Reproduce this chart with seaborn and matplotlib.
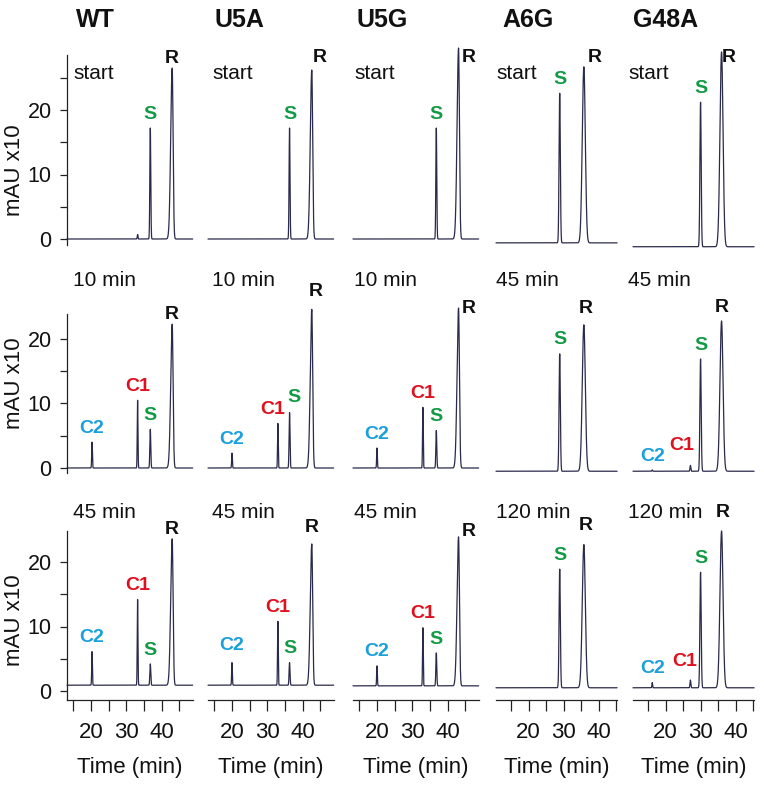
import numpy as np
import pandas as pd
import matplotlib.pyplot as plt
import matplotlib.transforms as mtransforms
import seaborn as sns

sns.set_theme(style="white")
plt.rcParams['font.family'] = ['Liberation Sans', 'DejaVu Sans']

# ── Data ─────────────────────────────────────────────────────────────────────
samples = ['WT', 'U5A', 'U5G', 'A6G', 'G48A']
time_labels = {
    'WT':   ['start', '10 min', '45 min'],
    'U5A':  ['start', '10 min', '45 min'],
    'U5G':  ['start', '10 min', '45 min'],
    'A6G':  ['start', '45 min', '120 min'],
    'G48A': ['start', '45 min', '120 min'],
}
peak_names = ['C2', 'C1', 'S', 'R']

# retention times (min) of C2, C1, S, R
rt_WT = [20.3, 33.2, 36.8, 43.0]
rt_U5A = [20.0, 33.0, 36.3, 42.6]
rt_U5G = [20.0, 33.0, 36.8, 43.1]
rt_A6G = [16.0, 27.0, 28.9, 35.8]
rt_G48A = [16.2, 27.1, 30.0, 36.0]

# apex values (mAU x10) for C2, C1, S, R at each time point
apex_WT = [[0.0, 0.7, 17.2, 26.5], [4.0, 10.5, 6.0, 22.3], [6.1, 14.2, 4.2, 23.6]]
apex_U5A = [[0.0, 0.0, 17.2, 26.2], [2.3, 6.9, 8.6, 24.6], [4.4, 10.8, 4.4, 22.8]]
apex_U5G = [[0.0, 0.0, 17.2, 29.6], [3.1, 9.4, 5.8, 24.8], [3.9, 9.8, 5.9, 23.9]]
apex_A6G = [[-0.6, -0.6, 22.6, 26.7], [-0.5, -0.5, 17.7, 22.2], [0.5, 0.5, 18.9, 22.7]]
apex_G48A = [[-1.2, -1.2, 21.2, 29.0], [-0.3, 0.4, 16.9, 22.8], [1.3, 1.7, 18.4, 24.8]]

# baseline level at each time point
base_WT = [0.0, 0.0, 0.9]
base_U5A = [0.0, 0.0, 0.9]
base_U5G = [0.0, 0.0, 0.8]
base_A6G = [-0.6, -0.5, 0.5]
base_G48A = [-1.2, -0.5, 0.5]

rts = {'WT': rt_WT, 'U5A': rt_U5A, 'U5G': rt_U5G, 'A6G': rt_A6G, 'G48A': rt_G48A}
apexes = {'WT': apex_WT, 'U5A': apex_U5A, 'U5G': apex_U5G, 'A6G': apex_A6G, 'G48A': apex_G48A}
bases = {'WT': base_WT, 'U5A': base_U5A, 'U5G': base_U5G, 'A6G': base_A6G, 'G48A': base_G48A}

# ── Style ────────────────────────────────────────────────────────────────────
colors = {'C2': '#1ca0dc', 'C1': '#e0101e', 'S': '#129a45', 'R': '#111111'}
trace_color = '#2a2a4c'
# peak widths (sigma left, sigma right) in minutes
sig_sharp = {'C2': (0.10, 0.10), 'C1': (0.10, 0.10), 'S': (0.13, 0.13), 'R': (0.42, 0.25)}
sig_broad = {'C2': (0.10, 0.10), 'C1': (0.12, 0.12), 'S': (0.18, 0.18), 'R': (0.45, 0.42)}

# label offsets (points) relative to the peak apex
default_off = (0, 10)
label_off = {
    (0, 'WT', 'R'): (0, 7),
    (0, 'U5A', 'R'): (6, 9), (0, 'U5G', 'R'): (7, -7),
    (0, 'A6G', 'R'): (8, 6.5), (0, 'G48A', 'R'): (5, -4),
    (1, 'WT', 'R'): (0, 7),
    (1, 'U5A', 'C1'): (-3.6, 10), (1, 'U5A', 'S'): (3, 11), (1, 'U5A', 'R'): (3, 13),
    (1, 'U5G', 'R'): (7, 0), (1, 'A6G', 'R'): (1.4, 12), (1, 'G48A', 'C1'): (-6, 14),
    (2, 'WT', 'R'): (0, 7),
    (2, 'U5A', 'C2'): (0, 12), (2, 'U5A', 'R'): (0, 12), (2, 'U5G', 'R'): (7, 4),
    (2, 'A6G', 'R'): (1.4, 13.7), (2, 'G48A', 'C1'): (-4.3, 13.7), (2, 'G48A', 'R'): (0.7, 13.7),
}

W, H = 764, 788
k = 6.45  # px per mAU x10
col_left = [67, 208, 353, 496, 633]
col_xlim = [(13.2, 48.8)] * 3 + [(10.7, 45.3)] * 2
col_pxmin = [3.53] * 3 + [3.5] * 2
col_tlabel_dx = [6, 4, 1, 0, -5]   # px from axes left
col_title_dx = [9, 7, 4, 6, 0]
row_zero = [239, 468, 691]
row_ylim = [(-1.5, 30.5), (-1.0, 26.0), (-1.4, 25.5)]
row_spine = [(-1.0, 28.5), (-0.8, 23.8), (-1.4, 24.8)]
row_minor = [[5, 15, 25], [5, 15], [5, 15]]
row_tlabel_y = [25.7, 29.1, 27.6]
row_ylabel_y = [10.7, 13.2, 11.0]

fig = plt.figure(figsize=(W / 100, H / 100), dpi=100)
fig.patch.set_facecolor('white')


def trace(t, sample, row, broad):
    y = np.full_like(t, bases[sample][row])
    sig = sig_broad if broad else sig_sharp
    for name, rt, ap in zip(peak_names, rts[sample], apexes[sample][row]):
        amp = ap - bases[sample][row]
        sl, sr = sig[name]
        s = np.where(t < rt, sl, sr)
        y += amp * np.exp(-0.5 * ((t - rt) / s) ** 2)
    return y


for c, sample in enumerate(samples):
    broad = c >= 3
    xlim = col_xlim[c]
    width_px = (xlim[1] - xlim[0]) * col_pxmin[c]
    for r in range(3):
        ylim = row_ylim[r]
        bottom_px = row_zero[r] - ylim[0] * k
        height_px = (ylim[1] - ylim[0]) * k
        ax = fig.add_axes([col_left[c] / W, 1 - bottom_px / H, width_px / W, height_px / H])
        ax.set_facecolor('none')

        t = np.linspace(xlim[0], xlim[1], 3000)
        df = pd.DataFrame({'Time': t, 'Signal': trace(t, sample, r, broad)})
        sns.lineplot(data=df, x='Time', y='Signal', ax=ax, color=trace_color,
                     linewidth=0.9, estimator=None, clip_on=False)
        ax.set_xlim(*xlim)
        ax.set_ylim(*ylim)

        for sp in ['top', 'right']:
            ax.spines[sp].set_visible(False)
        ax.spines['left'].set_visible(c == 0)
        ax.spines['bottom'].set_visible(r == 2)
        for sp in ['left', 'bottom']:
            ax.spines[sp].set_color('#222222')
            ax.spines[sp].set_linewidth(0.9)
        ax.spines['left'].set_bounds(*row_spine[r])

        if c == 0:
            ax.set_yticks([0, 10, 20])
            ax.set_yticks(row_minor[r], minor=True)
            ax.tick_params(axis='y', which='both', direction='out', length=5,
                           width=0.9, color='#222222', left=True, pad=6,
                           labelsize=15.5, labelcolor='#111111')
            ax.set_ylabel('mAU x10', fontsize=16, color='#111111')
            ax.yaxis.set_label_coords((25 - 67) / width_px,
                                      (row_ylabel_y[r] - ylim[0]) / (ylim[1] - ylim[0]))
        else:
            ax.set_yticks([])
            ax.set_ylabel('')

        if r == 2:
            ax.set_xticks([20, 30, 40])
            ax.set_xticks([m for m in [15, 25, 35, 45] if xlim[0] < m <= xlim[1] + 0.5], minor=True)
            ax.tick_params(axis='x', which='both', direction='out', length=8,
                           width=0.9, color='#222222', bottom=True, pad=8,
                           labelsize=16, labelcolor='#111111')
            ax.set_xlabel('Time (min)', fontsize=16, color='#111111', labelpad=10)
        else:
            ax.set_xticks([])
            ax.set_xlabel('')

        # time point label
        blend = mtransforms.blended_transform_factory(ax.transAxes, ax.transData)
        ax.text(col_tlabel_dx[c] / width_px, row_tlabel_y[r], time_labels[sample][r],
                transform=blend, fontsize=15, color='#111111', ha='left', va='center')

        # sample title
        if r == 0:
            ax.text(col_title_dx[c] / width_px, 32.9, sample, transform=blend, fontsize=18,
                    fontweight='bold', color='#111111', ha='left', va='baseline')

        # peak labels
        for name, rt, ap in zip(peak_names, rts[sample], apexes[sample][r]):
            if name in ('C2', 'C1') and (r == 0 or sample == 'A6G'):
                continue
            dx, dy = label_off.get((r, sample, name), default_off)
            ax.annotate(name, xy=(rt, ap), xytext=(dx, dy), textcoords='offset points',
                        ha='center', va='center', fontsize=14, fontweight='bold',
                        color=colors[name], annotation_clip=False)

fig.savefig('out.png', dpi=100, facecolor='white')
